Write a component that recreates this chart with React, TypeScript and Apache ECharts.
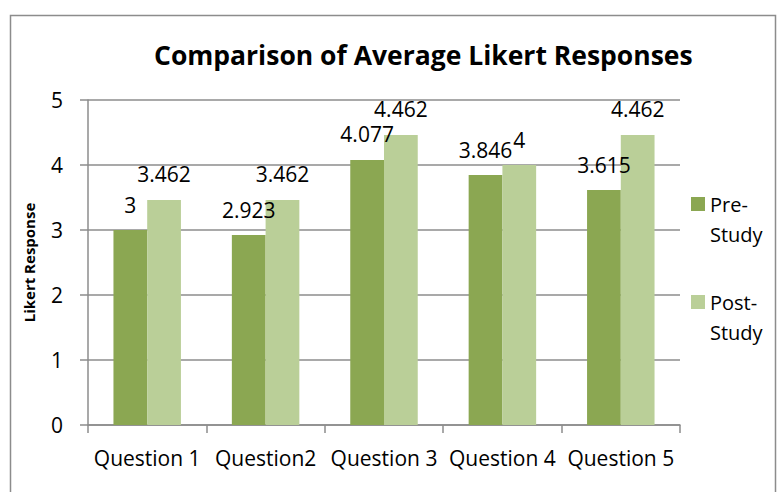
import React, { useEffect, useRef } from "react";
import * as echarts from "echarts";

const categories = ["Question 1", "Question2", "Question 3", "Question 4", "Question 5"];
const preStudy = [3, 2.923, 4.077, 3.846, 3.615];
const postStudy = [3.462, 3.462, 4.462, 4, 4.462];
const seriesNames = ["Pre-Study", "Post-Study"];

const FONT = "'Open Sans', 'Noto Sans', sans-serif";

export default function App() {
  const ref = useRef<HTMLDivElement>(null);
  useEffect(() => {
    document.body.style.margin = "0";
    const chart = echarts.init(ref.current!, null, { renderer: "svg" });
    const labelStyle = {
      show: true,
      position: "top" as const,
      distance: 15,
      fontSize: 21,
      fontFamily: FONT,
      color: "#000",
      formatter: (p: any) => String(p.value),
    };
    chart.setOption({
      animation: false,
      backgroundColor: "#fff",
      textStyle: { fontFamily: FONT },
      title: {
        text: "Comparison of Average Likert Responses",
        left: 149,
        top: 36,
        textStyle: { fontSize: 26.5, fontWeight: "bold", color: "#000", fontFamily: FONT },
      },
      graphic: [
        {
          type: "rect",
          shape: { x: 10.5, y: 15.5, width: 765, height: 490 },
          style: { fill: "none", stroke: "#8c8c8c", lineWidth: 1.5 },
          silent: true,
        },
      ],
      legend: {
        orient: "vertical",
        left: 686,
        top: 154,
        itemWidth: 14,
        itemHeight: 14,
        itemGap: 8,
        icon: "rect",
        textStyle: { fontSize: 20, lineHeight: 30, color: "#000", fontFamily: FONT },
        formatter: (name: string) => "\n" + name.replace("-", "-\n"),
      },
      grid: { left: 88, right: 99, top: 100, bottom: 67, containLabel: false },
      xAxis: {
        type: "category",
        data: categories,
        axisLine: { lineStyle: { color: "#8c8c8c", width: 1.5 } },
        axisTick: { show: true, length: 8, lineStyle: { color: "#8c8c8c", width: 1.5 } },
        axisLabel: { interval: 0, fontSize: 21, color: "#000", margin: 22, fontFamily: FONT },
      },
      yAxis: {
        type: "value",
        min: 0,
        max: 5,
        interval: 1,
        name: "Likert Response",
        nameLocation: "middle",
        nameGap: 52,
        nameTextStyle: { fontSize: 15, fontWeight: "bold", color: "#000", fontFamily: FONT },
        axisLine: { show: true, lineStyle: { color: "#8c8c8c", width: 1.5 } },
        axisTick: { show: true, length: 8, lineStyle: { color: "#8c8c8c", width: 1.5 } },
        axisLabel: { fontSize: 21, color: "#000", margin: 25, fontFamily: FONT },
        splitLine: { lineStyle: { color: "#8c8c8c", width: 1.5 } },
      },
      series: [
        {
          name: seriesNames[0],
          type: "bar",
          data: preStudy,
          itemStyle: { color: "#8BA752" },
          barGap: "0%",
          barCategoryGap: "43%",
          label: labelStyle,
        },
        {
          name: seriesNames[1],
          type: "bar",
          data: postStudy,
          itemStyle: { color: "#BACF98" },
          barGap: "0%",
          barCategoryGap: "43%",
          label: labelStyle,
        },
      ],
    });
    return () => chart.dispose();
  }, []);
  return <div ref={ref} style={{ width: 779, height: 492 }} />;
}
